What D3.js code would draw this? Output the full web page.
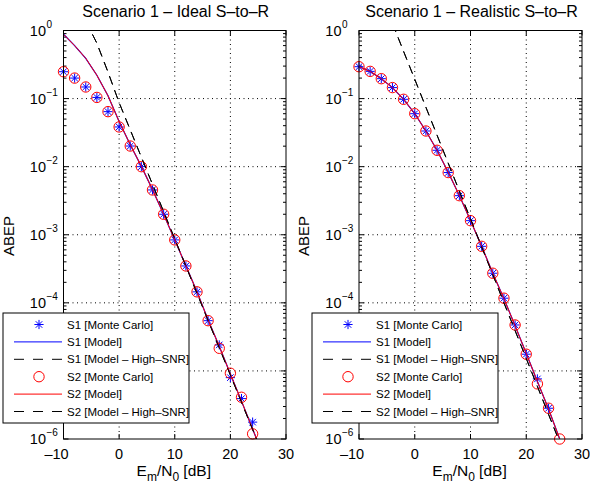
<!DOCTYPE html>
<html>
<head>
<meta charset="utf-8">
<script src="https://cdn.jsdelivr.net/npm/d3@7"></script>
<style>
  body { margin: 0; background: #fff; }
  text { font-family: "Liberation Sans", Arial, sans-serif; fill: #000; }
</style>
</head>
<body>
<script>
'use strict';

// ---- data ----
var xTicks = [-10, 0, 10, 20, 30];
var yDecades = [0, -1, -2, -3, -4, -5, -6];

// Monte Carlo points (every 2 dB)
var mcX = [-10, -8, -6, -4, -2, 0, 2, 4, 6, 8, 10, 12, 14, 16, 18, 20, 22, 24];
var idealS1MC = [0.248, 0.200, 0.148, 0.104, 0.0643, 0.0383, 0.0201, 0.0100, 0.00455, 0.0020,
    8.4e-4, 3.48e-4, 1.45e-4, 5.47e-5, 2.41e-5, 7.97e-6, 3.92e-6, 1.77e-6];
var idealS2MC = [0.248, 0.200, 0.148, 0.104, 0.0643, 0.0383, 0.0201, 0.0100, 0.00455, 0.0020,
    8.4e-4, 3.48e-4, 1.45e-4, 5.47e-5, 2.15e-5, 9.25e-6, 4.1e-6, 1.19e-6];

var realX2 = [-10, -8, -6, -4, -2, 0, 2, 4, 6, 8, 10, 12, 14, 16, 18, 20, 22, 24, 26];
var realS1MC = [0.294, 0.251, 0.196, 0.145, 0.0976, 0.060, 0.0334, 0.0174, 0.0082, 0.00375,
    0.00161, 6.76e-4, 2.72e-4, 1.17e-4, 4.73e-5, 1.76e-5, 7.63e-6, 2.83e-6];
var realS2MC = [0.294, 0.251, 0.196, 0.145, 0.0976, 0.060, 0.0334, 0.0174, 0.0082, 0.00375,
    0.00161, 6.76e-4, 2.72e-4, 1.17e-4, 4.73e-5, 1.76e-5, 6.45e-6, 2.83e-6, 1.0e-6];

// model curves
var modelX = [-10, -8, -6, -4, -2, 0, 2, 4, 6, 8, 10, 12, 14, 16, 18, 20, 22, 24, 26, 28];
var idealModel = [0.88, 0.60, 0.39, 0.22, 0.11, 0.046, 0.021, 0.0101, 0.0046, 0.0020,
    8.4e-4, 3.5e-4, 1.45e-4, 5.6e-5, 2.3e-5, 9.0e-6, 3.6e-6, 1.4e-6, 5.5e-7, 2.2e-7];
var realModel = [0.294, 0.251, 0.196, 0.145, 0.0976, 0.060, 0.0334, 0.0174, 0.0083, 0.00378,
    0.00162, 6.76e-4, 2.72e-4, 1.15e-4, 4.6e-5, 1.8e-5, 7.0e-6, 2.75e-6, 1.0e-6, 3.9e-7];

// high-SNR asymptotes
var idealHsnrX = [-6, -4, -2, 0, 2, 4, 6, 8, 10, 12, 14, 16, 18, 20, 22, 24, 26, 28];
var idealHsnr = [1.38, 0.65, 0.245, 0.0871, 0.0347, 0.0138, 0.0055, 0.00219, 8.7e-4, 3.47e-4,
    1.38e-4, 5.5e-5, 2.19e-5, 8.7e-6, 3.47e-6, 1.38e-6, 5.5e-7, 2.2e-7];
var realHsnrX = [-4, -2, 0, 2, 4, 6, 8, 10, 12, 14, 16, 18, 20, 22, 24, 26, 28];
var realHsnr = [1.27, 0.493, 0.192, 0.0746, 0.029, 0.01128, 0.00439, 0.00171, 6.65e-4,
    2.59e-4, 1.0e-4, 3.91e-5, 1.52e-5, 5.92e-6, 2.3e-6, 8.96e-7, 3.5e-7];

var legendLabels = ['S1 [Monte Carlo]', 'S1 [Model]', 'S1 [Model \u2013 High\u2013SNR]',
    'S2 [Monte Carlo]', 'S2 [Model]', 'S2 [Model \u2013 High\u2013SNR]'];

var panels = [
    {title: 'Scenario 1 \u2013 Ideal S\u2013to\u2013R', x0: 63.5, x1: 286,
     s1x: mcX, s1: idealS1MC, s2x: mcX, s2: idealS2MC,
     mx: modelX, model: idealModel, hx: idealHsnrX, hsnr: idealHsnr, legendX: 3},
    {title: 'Scenario 1 \u2013 Realistic S\u2013to\u2013R', x0: 359, x1: 582,
     s1x: mcX, s1: realS1MC, s2x: realX2, s2: realS2MC,
     mx: modelX, model: realModel, hx: realHsnrX, hsnr: realHsnr, legendX: 312}
];

var plotTop = 30.5, plotBottom = 439;
var svg = d3.select('body').append('svg').attr('width', 590).attr('height', 492);

var starPath = function(r) {
    var d = r * Math.SQRT1_2;
    return 'M' + (-r) + ',0L' + r + ',0M0,' + (-r) + 'L0,' + r +
        'M' + (-d) + ',' + (-d) + 'L' + d + ',' + d + 'M' + (-d) + ',' + d + 'L' + d + ',' + (-d);
};

panels.forEach(function(p, pi) {
    var x = d3.scaleLinear().domain([-10, 30]).range([p.x0, p.x1]);
    var y = d3.scaleLog().domain([1e-6, 1]).range([plotBottom, plotTop]);
    var g = svg.append('g');
    var clipId = 'clip' + pi;

    g.append('clipPath').attr('id', clipId).append('rect')
        .attr('x', p.x0).attr('y', plotTop).attr('width', p.x1 - p.x0).attr('height', plotBottom - plotTop);

    // grid
    xTicks.slice(1, -1).forEach(function(t) {
        g.append('line').attr('x1', x(t)).attr('x2', x(t)).attr('y1', plotTop).attr('y2', plotBottom)
            .attr('stroke', '#000').attr('stroke-width', 1).attr('stroke-dasharray', '1,3.5');
    });
    yDecades.slice(1, -1).forEach(function(d) {
        var yy = y(Math.pow(10, d));
        g.append('line').attr('x1', p.x0).attr('x2', p.x1).attr('y1', yy).attr('y2', yy)
            .attr('stroke', '#000').attr('stroke-width', 1).attr('stroke-dasharray', '1,3.5');
    });

    // ticks
    var tickG = g.append('g').attr('stroke', '#000').attr('stroke-width', 1);
    xTicks.forEach(function(t) {
        tickG.append('line').attr('x1', x(t)).attr('x2', x(t)).attr('y1', plotBottom).attr('y2', plotBottom - 5);
        tickG.append('line').attr('x1', x(t)).attr('x2', x(t)).attr('y1', plotTop).attr('y2', plotTop + 5);
    });
    yDecades.forEach(function(d) {
        var yy = y(Math.pow(10, d));
        tickG.append('line').attr('x1', p.x0).attr('x2', p.x0 + 5).attr('y1', yy).attr('y2', yy);
        tickG.append('line').attr('x1', p.x1).attr('x2', p.x1 - 5).attr('y1', yy).attr('y2', yy);
        if (d < 0) {
            for (var k = 2; k < 10; k++) {
                var ym = y(k * Math.pow(10, d));
                tickG.append('line').attr('x1', p.x0).attr('x2', p.x0 + 3).attr('y1', ym).attr('y2', ym);
                tickG.append('line').attr('x1', p.x1).attr('x2', p.x1 - 3).attr('y1', ym).attr('y2', ym);
            }
        }
    });

    // tick labels
    xTicks.forEach(function(t) {
        g.append('text').attr('x', x(t) + (t < 0 ? -7 : 0)).attr('y', plotBottom + 20)
            .attr('text-anchor', 'middle').attr('font-size', 14.5)
            .text(t < 0 ? '\u2013' + Math.abs(t) : t);
    });
    yDecades.forEach(function(d) {
        var yy = y(Math.pow(10, d));
        g.append('text').attr('x', p.x0 - 17.5).attr('y', yy + 5)
            .attr('text-anchor', 'end').attr('font-size', 14.5).text('10');
        g.append('text').attr('x', p.x0 - 17).attr('y', yy - 3)
            .attr('font-size', 10).text(d < 0 ? '\u2212' + Math.abs(d) : d);
    });

    // axis labels and title
    var cx = (p.x0 + p.x1) / 2;
    g.append('text').attr('x', cx + 1).attr('y', 17).attr('text-anchor', 'middle')
        .attr('font-size', 16).text(p.title);
    var xl = g.append('text').attr('x', cx - 1).attr('y', 476).attr('text-anchor', 'middle')
        .attr('font-size', 15.5);
    xl.append('tspan').text('E');
    xl.append('tspan').attr('dy', 5).attr('font-size', 12).text('m');
    xl.append('tspan').attr('dy', -5).text('/N');
    xl.append('tspan').attr('dy', 5).attr('font-size', 12).text('0');
    xl.append('tspan').attr('dy', -5).text(' [dB]');
    g.append('text').attr('transform', 'translate(' + (p.x0 - 50) + ',236) rotate(-90)')
        .attr('text-anchor', 'middle').attr('font-size', 15).text('ABEP');

    // series
    var line = d3.line().x(function(d) { return x(d[0]); }).y(function(d) { return y(d[1]); });
    var plot = g.append('g');
    var zip = function(xs, ys) { return ys.map(function(v, i) { return [xs[i], v]; }); };

    var drawStars = function(xs, ys) {
        plot.selectAll(null).data(zip(xs, ys)).enter().append('path')
            .attr('transform', function(d) { return 'translate(' + x(d[0]) + ',' + y(d[1]) + ')'; })
            .attr('d', starPath(4.6)).attr('stroke', '#0000ff').attr('stroke-width', 1).attr('fill', 'none');
    };
    var drawCircles = function(xs, ys) {
        plot.selectAll(null).data(zip(xs, ys)).enter().append('circle')
            .attr('cx', function(d) { return x(d[0]); }).attr('cy', function(d) { return y(d[1]); })
            .attr('r', 5.2).attr('stroke', '#ff0000').attr('stroke-width', 1).attr('fill', 'none');
    };
    var drawLine = function(xs, ys, color, dash, w) {
        plot.append('path').attr('clip-path', 'url(#' + clipId + ')')
            .attr('d', line(zip(xs, ys))).attr('fill', 'none')
            .attr('stroke', color).attr('stroke-width', w || 1).attr('stroke-dasharray', dash || null);
    };

    drawStars(p.s1x, p.s1);
    drawLine(p.mx, p.model, '#0000ff', null, 1.25);
    drawLine(p.hx, p.hsnr, '#000', '9,6');
    drawCircles(p.s2x, p.s2);
    drawLine(p.mx, p.model, '#ff0000');
    drawLine(p.hx, p.hsnr, '#000', '9,6');

    // box
    g.append('rect').attr('x', p.x0).attr('y', plotTop).attr('width', p.x1 - p.x0).attr('height', plotBottom - plotTop)
        .attr('fill', 'none').attr('stroke', '#000').attr('stroke-width', 1);

    // legend
    var lg = g.append('g').attr('transform', 'translate(' + p.legendX + ',313)');
    lg.append('rect').attr('width', 186).attr('height', 110)
        .attr('fill', '#fff').attr('stroke', '#000').attr('stroke-width', 1);
    legendLabels.forEach(function(lab, i) {
        var ry = 11.5 + i * 17.4;
        if (i === 0) {
            lg.append('path').attr('transform', 'translate(36,' + ry + ')').attr('d', starPath(4.6))
                .attr('stroke', '#0000ff').attr('fill', 'none');
        } else if (i === 3) {
            lg.append('circle').attr('cx', 36).attr('cy', ry).attr('r', 5.2)
                .attr('stroke', '#ff0000').attr('fill', 'none');
        } else {
            lg.append('line').attr('x1', 11).attr('x2', 59).attr('y1', ry).attr('y2', ry)
                .attr('stroke', i === 1 ? '#0000ff' : (i === 4 ? '#ff0000' : '#000'))
                .attr('stroke-dasharray', (i === 2 || i === 5) ? '10,9' : null);
        }
        lg.append('text').attr('x', 64).attr('y', ry + 4).attr('font-size', 11.5).text(lab);
    });
});
</script>
</body>
</html>
